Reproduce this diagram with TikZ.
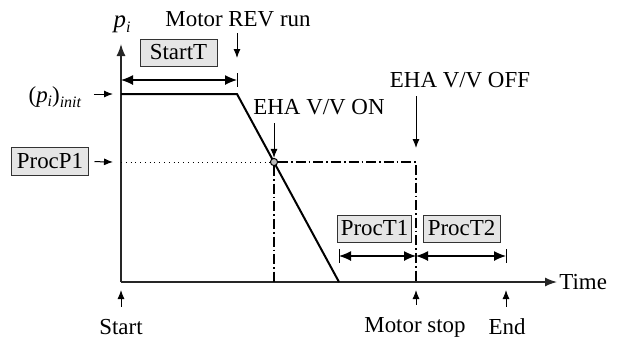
\documentclass[tikz,border=0pt]{standalone}
\usepackage{fontspec}
\setmainfont{Liberation Serif}
\usetikzlibrary{arrows.meta,positioning}
\newcommand{\psub}[1]{\textit{p}\raisebox{-0.45ex}{\footnotesize\textit{#1}}}
\tikzset{
  lbl/.style={font=\fontsize{11.5}{13}\selectfont, inner sep=1bp},
  box/.style={rectangle, draw=black!80, fill=gray!20, line width=0.5bp, inner sep=1.5bp, minimum height=13.5bp, font=\fontsize{11.5}{13}\selectfont},
  axis/.style={-{Latex[length=6bp,width=4.5bp]}, line width=0.7bp, draw=black!85},
  ptr/.style={-{Latex[length=4.5bp,width=3.5bp]}, line width=0.5bp},
  span/.style={{Latex[length=6bp,width=5bp]}-{Latex[length=6bp,width=5bp]}, line width=0.6bp},
  curve/.style={line width=1bp},
  switch/.style={line width=0.7bp, dash pattern=on 5bp off 1.5bp on 0.8bp off 1.5bp},
  tick/.style={line width=0.5bp}
}
\begin{document}
\begin{tikzpicture}[x=0.5bp, y=-0.5bp]
\useasboundingbox (0,0) rectangle (623,341);

% Axes
\coordinate (O) at (121,282);
\coordinate (ytop) at (121,44);
\coordinate (xend) at (557,282);
\draw[axis] (O) -- (ytop);
\draw[axis] (O) -- (xend);
\node[lbl, anchor=west] (time) at (xend) {Time};
\node[lbl, font=\fontsize{12.5}{14}\selectfont] (pi) at (122,24) {\psub{i}};

% Pressure profile
\coordinate (init) at (121,94);
\coordinate (knee) at (237,94);
\coordinate (foot) at (339,282);
\draw[curve] (init) -- (knee) -- (foot);

% ProcP1 level and valve timing
\coordinate (p1) at (121,162);
\coordinate (offtop) at (416,162);
\coordinate (offbase) at (416,282);
\coordinate (onbase) at (274,282);
\node[circle, draw, fill=gray!55, line width=0.5bp, inner sep=0pt, minimum size=3.6bp] (cross) at (274,162) {};
\draw[dotted, line width=0.4bp] (p1) -- (cross);
\draw[switch] (cross) -- (offtop) -- (offbase);
\draw[switch] (cross) -- (onbase);

% StartT span
\coordinate (st) at (121,80);
\coordinate (se) at (237,80);
\draw[span] (st) -- (se);
\draw[tick] ([yshift=3.5bp]se) -- ([yshift=-3.5bp]se);
\node[box, minimum width=38.5bp] (startt) at (178.5,52.5) {StartT};

% ProcT spans
\coordinate (t1) at (339,256);
\coordinate (tm) at (416,256);
\coordinate (t2) at (506,256);
\draw[span] (t1) -- (tm);
\draw[span] (tm) -- (t2);
\draw[tick] ([yshift=3.5bp]t1) -- ([yshift=-3.5bp]t1);
\draw[tick] ([yshift=3.5bp]t2) -- ([yshift=-3.5bp]t2);
\node[box, minimum width=35.5bp] (proct1) at (374.5,228.5) {ProcT1};
\node[box, minimum width=38.5bp] (proct2) at (461.5,228.5) {ProcT2};

% Left labels
\node[lbl] (pinit) at (55,97) {(\psub{i})\raisebox{-0.5ex}{\footnotesize\textit{init}}};
\draw[ptr, shorten <=5bp] (pinit.east |- init) -- ([xshift=-4bp]init);
\node[box, minimum width=38bp, minimum height=14bp] (procp) at (50,161.5) {ProcP1};
\draw[ptr, shorten <=3bp] (procp.east) -- ([xshift=-4bp]p1);

% Event labels
\node[lbl] (rev) at (238,19) {Motor REV run};
\draw[ptr, shorten <=2bp] (rev.south -| knee) -- ([yshift=18bp]knee);
\node[lbl] (von) at (319,107) {EHA V/V ON};
\draw[ptr, shorten <=3bp] (von.south -| cross) -- ([yshift=7bp]cross);
\node[lbl] (voff) at (460,80) {EHA V/V OFF};
\draw[ptr, shorten <=3bp] (voff.south -| offtop) -- ([yshift=7bp]offtop);

% Bottom labels
\node[lbl] (start) at (121,327) {Start};
\draw[ptr, shorten <=5bp] (start.north) -- ([yshift=-4bp]O);
\node[lbl] (mstop) at (415,327) {Motor stop};
\draw[ptr, shorten <=5bp] (mstop.north -| offbase) -- ([yshift=-4bp]offbase);
\coordinate (endmark) at (506,282);
\node[lbl] (endl) at (507,327) {End};
\draw[ptr, shorten <=5bp] (endl.north -| endmark) -- ([yshift=-4bp]endmark);

\end{tikzpicture}
\end{document}
